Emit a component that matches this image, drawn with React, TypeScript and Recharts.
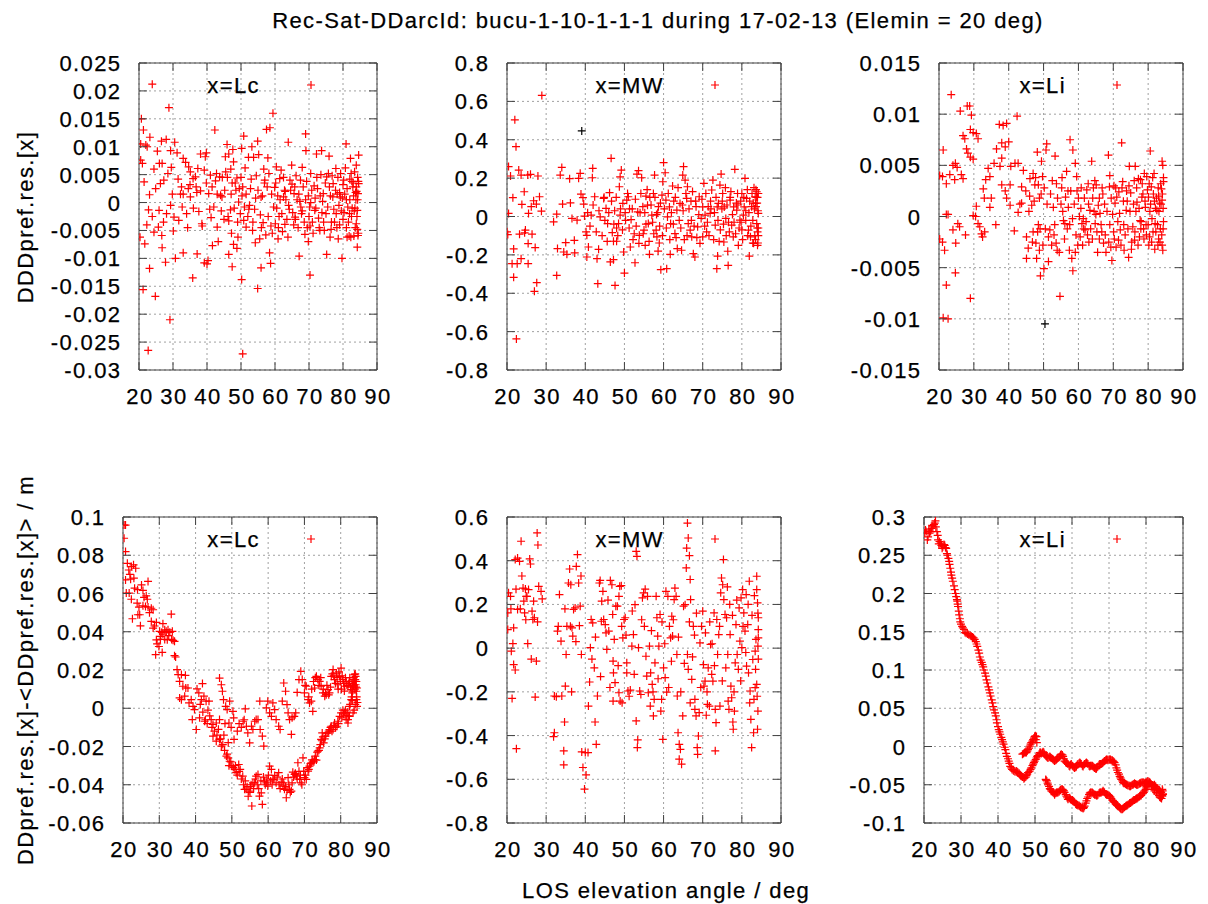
import React from 'react';
import { ScatterChart, Scatter, XAxis, YAxis, CartesianGrid, ReferenceArea } from 'recharts';

const FONT = '"Liberation Sans", Arial, Helvetica, sans-serif';
const AXIS = '#404040';
const GRID = '#a0a0a0';
const RED = '#ff0000';

// ---------- axes ----------
const xTicks = [20, 30, 40, 50, 60, 70, 80, 90];
const xTickLabels = ['20', '30', '40', '50', '60', '70', '80', '90'];

const topLcTicks = [-0.03, -0.025, -0.02, -0.015, -0.01, -0.005, 0, 0.005, 0.01, 0.015, 0.02, 0.025];
const topLcLabels = ['-0.03', '-0.025', '-0.02', '-0.015', '-0.01', '-0.005', '0', '0.005', '0.01', '0.015', '0.02', '0.025'];
const topMwTicks = [-0.8, -0.6, -0.4, -0.2, 0, 0.2, 0.4, 0.6, 0.8];
const topMwLabels = ['-0.8', '-0.6', '-0.4', '-0.2', '0', '0.2', '0.4', '0.6', '0.8'];
const topLiTicks = [-0.015, -0.01, -0.005, 0, 0.005, 0.01, 0.015];
const topLiLabels = ['-0.015', '-0.01', '-0.005', '0', '0.005', '0.01', '0.015'];
const botLcTicks = [-0.06, -0.04, -0.02, 0, 0.02, 0.04, 0.06, 0.08, 0.1];
const botLcLabels = ['-0.06', '-0.04', '-0.02', '0', '0.02', '0.04', '0.06', '0.08', '0.1'];
const botMwTicks = [-0.8, -0.6, -0.4, -0.2, 0, 0.2, 0.4, 0.6];
const botMwLabels = ['-0.8', '-0.6', '-0.4', '-0.2', '0', '0.2', '0.4', '0.6'];
const botLiTicks = [-0.1, -0.05, 0, 0.05, 0.1, 0.15, 0.2, 0.25, 0.3];
const botLiLabels = ['-0.1', '-0.05', '0', '0.05', '0.1', '0.15', '0.2', '0.25', '0.3'];

// ---------- data: [elevation, value] ----------
const topLcPoints: [number, number][] = [
  [20.7,0.015],[21.3,0.013],[22,0.0103],[22.4,0.010],[23.2,0.0117],[20.5,0.0076],[21,0.007],[21.5,0.0037],[20.3,-0.0062],[21.7,-0.0074],
  [21.2,-0.0156],[23.1,-0.0118],[22.7,-0.0265],[24.8,-0.0168],[23.9,0.0212],[28.8,0.017],[23.1,0.0014],[22.8,-0.0013],[23.9,-0.0025],[24.4,-0.0053],
  [24.4,0.006],[25.4,0.0092],[26,0.007],[26.8,0.007],[26.6,0.011],[28,0.0113],[27.3,0.004],[26.3,0.0034],[24.9,0.0025],[25.9,-0.0014],
  [25.7,-0.0044],[26.7,-0.0059],[26.8,-0.0081],[27.8,-0.0107],[29.1,-0.021],[28.1,-0.002],[29.3,-0.0005],[29.8,0.0015],[29.5,0.0063],[29.3,0.0093],
  [30.5,0.0108],[31.2,0.0089],[30.3,-0.0026],[30.1,-0.0051],[30.7,-0.01],[31.7,-0.0032],[32.7,-0.0008],[32.2,0.0015],[32.5,0.0028],[33,0.0079],
  [33.7,0.0072],[34.6,0.0064],[35.1,0.0055],[34.5,0.0025],[35.1,0.001],[33,-0.009],[35.9,0.0043],[36.6,0.0046],[37.3,0.0061],[38.1,0.0087],
  [39.5,0.0082],[39.8,0.0089],[39.2,0.0058],[38.1,0.0021],[37.6,-0.0016],[35.8,-0.0135],[37.1,-0.0092],[38.6,-0.0042],[39.2,-0.0108],[40,-0.011],
  [40.3,-0.0104],[40.5,0.0016],[41,0.0049],[41.2,-0.0027],[41.6,-0.0077],[42.3,0.013],[42.5,0.0039],[43,-0.0044],[43.3,-0.007],[43.7,0.0046],
  [44,0.0013],[44.4,0.001],[45.2,0.0022],[45.4,0.0082],[45.9,0.0104],[46.4,0.0087],[46.4,-0.0033],[46.4,-0.0093],[47.4,0.0035],[47.6,0.0095],
  [47.8,0.0073],[46.9,-0.0013],[47.4,-0.0115],[47.8,-0.0075],[48.8,-0.0082],[48.8,0.0044],[49.3,0.0001],[49.5,0.0025],[50.2,0.0097],[50.8,0.0119],
  [50.2,-0.0138],[50.5,-0.0271],[50.5,0.0028],[51,-0.0008],[51.5,-0.0044],[52.5,-0.0005],[52.2,0.0081],[53.2,0.01],[53.7,0.0081],[53.4,-0.005],
  [54.2,-0.0072],[54.9,0.011],[55.2,0.0086],[54.9,-0.0154],[55.9,-0.0117],[55.9,0.001],[56.5,-0.0036],[56.9,0.0035],[57.5,0.0131],[58.5,0.0134],
  [57.9,0.008],[58.4,-0.009],[58.7,-0.0109],[59.4,0.016],[59.9,0.0027],[60.4,0.0064],[60.1,-0.0038],[60.9,-0.0065],[61.4,0.0043],[62.5,0.001],
  [62.9,-0.0039],[63.9,0.0108],[64.4,0.004],[64.9,0.0067],[65.6,0.0016],[65.9,-0.0026],[67.1,-0.0096],[67.6,-0.0008],[68,0.0063],[69,0.0123],
  [69.1,0.0093],[68.8,-0.0057],[69.8,-0.007],[70.3,-0.013],[70.5,0.0052],[71.7,-0.0014],[72.2,0.0087],[73.2,-0.005],[73.7,0.0093],[74.2,0.0016],
  [75.2,-0.0093],[75.2,0.0046],[75.9,0.0083],[76.6,-0.0035],[77.1,0.0034],[77.9,0.0061],[78.6,-0.0065],[79.2,0.001],[79.7,-0.01],[80.9,0.0105],
  [81.4,-0.0008],[81.2,-0.0062],[82.2,0.0079],[82.4,0.0052],[82.9,0.0028],[83.9,0.0067],[84.6,0.0085],[84.2,-0.008],[84.4,-0.0059],[84.2,-0.0014],
  [84.4,0.0016],[84.6,0.0034],[83.9,-0.0038],
  [60.5,-0.001],[61.5,0.0005],[62,-0.002],[63,0.002],[64,-0.0005],[65,0.0033],[66,-0.003],[66.5,0.0005],[67,0.0015],[68,-0.0015],
  [69,0.0005],[70,-0.0025],[70.5,0],[71,-0.0035],[72,-0.001],[72.5,0.0025],[73,-0.0045],[74,0.0002],[75,-0.002],[76,0.0028],
  [76.5,-0.0048],[77,0.001],[78,-0.002],[78.5,0.0045],[79,0.0018],[80,-0.003],[80.5,0.0015],[81,-0.0045],[82,0.0005],[82.5,-0.0025],
  [83,0.0035],[83.5,-0.001],[84,0.002],[84.5,-0.0055],[83.8,0.0005],[84.3,0.0045],[83.2,-0.006],[81.8,-0.006],[80.2,0.004],[79.5,-0.0015],
  [77.5,-0.0035],[74.5,-0.005],[73.5,0.005],[71.5,0.003],[69.5,-0.0045],[67.5,0.004],[65.5,-0.004],[63.5,-0.003],[62.5,0.0045],[61,-0.0045],
  [59,0.0015],[58,-0.0025],[57,0.004],[56,-0.0045],[55,0.0022],[54,-0.0012],[53,0.0042],[52,-0.0025],[51.5,0.0015],[49,-0.0035],
  [48.5,0.0022],[48,-0.001],[46,0.0045],[45,-0.003],[44.5,0.0045],[43,0.0015],[42,-0.0008],[41.5,0.0028],[38.5,-0.0038],[37,0.0018],
  [36,-0.001],[35,0.0032],[34,-0.002],[33,0.0015],
  [45.5,0.0055],[46.2,-0.0025],[47,0.006],[47.2,-0.0055],[48.3,0.0035],[49.8,-0.002],[50,0.0045],[50.8,-0.0032],[51.2,0.0062],[52.8,0.0025],
  [53.5,-0.0035],[54.5,0.0048],[55.5,-0.0065],[56.3,0.0012],[57.3,-0.0058],[58.2,0.0052],[58.8,-0.0042],[59.6,-0.0008],[60.2,0.0035],[61.2,-0.0025],
  [61.8,0.0058],[62.2,-0.0052],[63.2,0.0005],[63.8,-0.0062],[64.6,0.0022],[65.2,-0.0018],[66.2,0.0048],[66.8,-0.0045],[67.3,0.0002],[68.3,0.0028],
  [68.6,-0.0035],[69.3,0.0038],[70.2,-0.0008],[70.8,0.0022],[71.2,-0.0055],[71.8,0.0008],[72.8,-0.0028],[73.3,0.0012],[73.8,-0.0018],[74.8,0.0035],
  [75.5,-0.0008],[76.2,-0.0062],[76.8,0.0048],[77.3,-0.0012],[77.8,0.0022],[78.2,-0.0045],[78.8,-0.0005],[79.3,0.0052],[79.8,0.0008],[80.3,-0.0018],
  [80.7,0.0062],[81.2,0.0025],[81.6,-0.0035],[82,0.0042],[82.3,-0.0062],[82.7,-0.001],[83.1,0.0012],[83.4,0.0055],[83.6,-0.0045],[83.9,0.0028],
  [84.1,-0.0025],[84.3,0.0005],[84.5,0.0038],[84.2,-0.0048],[83.7,0.0018],[83.3,-0.0015],[82.6,0.0038],[81.9,-0.002],[81,0.0005],[80,0.0032],
  [79,-0.004],[78.3,0.0015],[76.3,0.0012],[75.7,0.0052],[74.3,-0.0035],[72.3,0.0045],[70.3,-0.0042],[69.8,0.0012],[67.8,-0.002],[65.8,0.0028],
  [64.2,-0.0012],[62.8,0.0022],[60.8,0.0012],[59.2,-0.0055],[57.7,0.0028],[56.7,0.006],[55.7,-0.0022],[54.3,0.0008],[52.3,-0.0012],[50.3,0.0012],
  [49.1,-0.0062],[47.1,0.0015],[44.2,-0.0015],[42.8,0.0052],[40.8,-0.0012],[39.8,0.0035],[36.8,0.0028],[34.3,-0.0045],[31.5,0.0042],[28.5,0.0052],
  [27.2,-0.0035],[22.3,-0.004],[20.5,0.0105],
];

const topMwPoints: [number, number][] = [
  [22,0.504],[22.3,0.364],[28.9,0.631],[20.4,0.26],[20.9,0.211],[21.5,0.098],[20.4,0.016],[20,-0.08],[20.2,-0.094],[21.7,-0.169],
  [21.3,-0.246],[22.6,-0.246],[21.7,-0.317],[22.4,-0.638],[23,0.242],[23.6,0.216],[25.3,0.216],[26,0.22],[27.9,0.211],[24.4,0.129],
  [23.8,0.063],[24.7,-0.071],[23.2,-0.092],[24.5,-0.085],[25.5,0.016],[26.2,0.051],[26.8,0.082],[27.5,0.065],[28.3,0.103],[28.8,0.028],
  [26.4,-0.092],[25.4,-0.141],[27.2,-0.162],[25.4,-0.246],[27.6,-0.345],[27,-0.39],[23.6,-0.22],[31.9,-0.028],[32.7,0.012],[32.9,-0.167],
  [32.7,-0.307],[33.6,0.216],[34,0.256],[34.2,0.065],[34.5,-0.185],[35,-0.136],[35.3,-0.197],[36,0.197],[36.2,0.071],[36.6,-0.01],
  [37.2,-0.124],[37.3,-0.19],[37.9,-0.019],[38.3,0.199],[38.7,0.225],[38.9,0.117],[39.4,0.098],[39.6,0.065],[39.8,0.002],[40.2,-0.08],
  [40.4,-0.098],[40.8,-0.159],[40.4,-0.211],[41.5,0.007],[41.9,0.251],[41.8,0.202],[42.4,0.103],[43,-0.22],[43.2,-0.35],[43.4,-0.171],
  [43.8,-0.002],[44.7,0.094],[45.3,0.042],[45.7,-0.037],[46.2,0.124],[46.6,0.303],[46.9,-0.084],[47.2,-0.129],[46.4,-0.237],[47.2,-0.225],
  [47.6,-0.359],[48,-0.129],[48.5,-0.037],[48.9,0.007],[48.9,0.207],[48.7,0.155],[49.2,0.242],[49.6,0.068],[49.8,-0.185],[50,-0.295],
  [50.6,0.085],[51,0.103],[51.5,-0.159],[51.7,-0.016],[52.7,-0.241],[53.2,0.221],[53.6,0.239],[53.4,0.024],[53.8,-0.098],[54.4,0.202],
  [54.7,0.051],[55,-0.071],[55.3,-0.15],[55.5,0.106],[55.9,0.059],[56.1,-0.037],[56.4,-0.197],[57,0.007],[57.4,0.12],[57.7,0.216],
  [58.1,-0.071],[58.3,-0.106],[58.7,0.051],[58.9,-0.138],[59.3,-0.277],[59.6,0.111],[59.8,0.181],[60,0.281],[60.4,0.228],[60.6,0.085],
  [60.8,-0.272],[61,-0.002],[61.7,-0.197],[61.8,-0.037],[62.3,0.159],[62.9,-0.089],[63.4,0.033],[63.5,-0.167],[64.2,0.068],[64.6,-0.176],
  [64.9,0.216],[65.1,0.26],[65.5,0.19],[65.9,0.094],[66.1,0.155],[66.3,-0.037],[66.8,-0.071],[67.2,-0.106],[67.6,-0.194],[68,-0.211],
  [68.3,0.051],[68.7,-0.054],[69.1,0.103],[69.6,-0.01],[70,-0.106],[70.3,0.173],[70.6,0.007],[71,-0.08],[71.4,0.051],[71.9,0.016],
  [72.3,0.138],[72.6,0.19],[73.2,-0.045],[73.6,-0.272],[73.8,-0.206],[74,0.068],[74.4,0.164],[74.7,0.221],[75.1,0.12],[75.4,-0.133],
  [75.9,-0.01],[76.4,-0.181],[76.5,-0.255],[77,0.085],[77.4,-0.045],[77.8,-0.106],[78.2,0.246],[78.7,0.033],[79.1,-0.15],[79.5,-0.019],
  [80,0.12],[80.4,0.007],[80.8,0.199],[81.2,0.094],[81.7,-0.071],[81.9,-0.206],[82.2,-0.106],[82.5,0.051],[82.8,-0.138],[83.1,0.15],
  [83.4,0.103],[83.6,0.051],[83.8,-0.037],[84,-0.08],[84.1,-0.138],[84.2,0.016],[83.8,0.129],[83.5,0.068],
  [45,-0.02],[47.5,0.03],[48,-0.06],[50.2,0.02],[51.2,-0.06],[52,0.04],[52.5,-0.09],[54,0.02],[55.5,-0.04],[56.5,0.1],
  [57.5,-0.09],[58.5,0.02],[59,-0.05],[61.5,0.05],[62.5,-0.04],[63,0.1],[64,-0.02],[65,0.03],[66,-0.1],[67,0.08],
  [67.8,-0.05],[69,0.01],[70,0.05],[71.2,-0.03],[72,0.08],[73,0.02],[74.5,-0.07],[75.5,0.05],[76,-0.1],[77,0.1],
  [78,-0.03],[79,0.06],[80,-0.07],[81,0.03],[82,0.08],[82.8,-0.02],[83.3,-0.1],[84,0.1],[84.2,-0.06],[83.9,0.07],
  [40.6,0.02],[41.2,-0.05],[42,0.06],[42.8,-0.08],[43.5,0.03],[44.3,-0.1],[44.8,0.1],[45.6,-0.13],[46,0.02],[46.7,0.08],
  [47.3,-0.04],[47.9,0.1],[48.3,-0.1],[49,0.04],[49.5,-0.07],[50.3,-0.02],[50.8,0.12],[51.3,0.04],[52.2,-0.12],[52.8,0.09],
  [53,-0.05],[53.7,-0.14],[54.2,0.12],[54.8,-0.09],[55.2,0.02],[55.8,0.14],[56.3,-0.13],[56.8,0.06],[57.2,-0.03],[57.8,0.1],
  [58.2,0.01],[58.6,-0.18],[59.2,0.07],[59.7,-0.1],[60.2,0.04],[60.7,-0.06],[61.2,0.12],[61.6,-0.12],[62,0.02],[62.6,0.08],
  [63.2,-0.11],[63.7,0.15],[64.4,-0.06],[64.8,0.06],[65.3,-0.12],[65.7,0.12],[66.5,0.04],[67.1,-0.02],[67.4,0.13],[68.2,0.08],
  [68.5,-0.11],[69.3,-0.14],[69.8,0.09],[70.5,-0.05],[70.8,0.12],[71.6,-0.1],[72.1,0.04],[72.8,-0.12],[73.4,0.1],[73.9,-0.02],
  [74.2,-0.13],[74.9,0.04],[75.3,-0.04],[75.8,0.15],[76.2,0.06],[76.8,-0.08],[77.2,0.13],[77.6,0.01],[78.4,-0.09],[78.9,0.12],
  [79.3,-0.06],[79.7,0.08],[80.2,-0.12],[80.6,0.05],[81,-0.02],[81.4,0.14],[81.8,0.02],[82.3,-0.05],[82.6,0.12],[83,-0.14],
  [83.2,0.04],[83.5,-0.12],[83.7,0.1],[83.9,-0.06],[84.1,0.03],[84.2,0.12],[84,-0.15],[84.2,-0.1],[83.6,0.14],[82.9,0.07],
  [81.5,-0.1],[80.5,0.1],[79.8,-0.03],[78.6,0.07],[77.9,0.05],[76.6,-0.03],[75,0.08],[73.7,0.05],
];
const topMwBlack: [number, number][] = [[39.1, 0.446]];

const topLiPoints: [number, number][] = [
  [23.5,0.0119],[21.2,0.0065],[20.2,0.004],[21,0.0039],[22.1,0.0032],[23.1,0.0041],[24,0.005],[24.7,0.0052],[25.2,0.0048],[24.5,0.0036],
  [26.4,0.0041],[26.9,0.0037],[26.1,0.0103],[28.1,0.0108],[28.8,0.0108],[29.3,0.0099],[26.9,0.0079],[27.4,0.0076],[29,0.0085],[29.8,0.0082],
  [30.7,0.0081],[31.2,0.0076],[27.9,0.0066],[28.3,0.0062],[29,0.0058],[29.8,0.0056],[22.6,0.0002],[22.1,0.0002],[20.2,-0.0022],[21,-0.0025],
  [21.6,-0.0033],[24,-0.0013],[24.8,-0.0026],[25.4,-0.0007],[25.9,-0.001],[27.6,-0.0018],[24.7,-0.0055],[22.1,-0.0067],[21.2,-0.0099],[22.6,-0.01],
  [29,-0.008],[29.8,0.0001],[30.5,0],[30.7,0.001],[31.2,-0.0007],[31.7,-0.001],[32.2,-0.0017],[32.5,-0.002],[33.1,-0.0015],[32.7,0.0027],
  [33,0.0018],[33.4,0.0036],[34.1,0.0047],[34.6,0.0039],[35,0.0018],[34.6,0.0009],[36.3,-0.0008],[35.8,0.0052],[36.5,0.0066],[37.5,0.0049],
  [38,0.0057],[37.3,0.009],[38.4,0.0089],[39.4,0.0091],[38,0.0072],[39,0.0068],[40,0.0073],[38,0.0031],[39,0.0025],[39.4,0.0018],
  [40.4,0.0031],[40.4,0.0011],[40.6,0.0049],[41.8,0.0052],[42.4,0.0098],[42.7,0.0052],[42.7,0.0004],[41.6,-0.0014],[43.7,0.0029],[44.2,0.0045],
  [43.7,0.0013],[45.1,-0.002],[45.6,-0.0031],[45.1,-0.0041],[46.1,0.0037],[46.6,0.0011],[47,0.0042],[47.5,0.0031],[48.2,0.0063],[48.5,0.0031],
  [48.8,0.0018],[48.5,-0.0008],[49,-0.0012],[47.8,-0.0026],[48,-0.0041],[48.8,-0.0033],[49.1,-0.0058],[50.1,-0.0051],[50.7,0.0065],[50.9,0.0071],
  [49.4,0.0054],[49.7,0.0039],[51.4,-0.0044],[51.4,-0.002],[51.8,-0.0013],[52.8,0.0009],[53.3,0.0059],[53.7,0.0032],[53.6,-0.0026],[53.9,-0.0033],
  [54.7,-0.0078],[55.2,0.0028],[55.7,-0.0004],[56.1,-0.0007],[56.3,0.0019],[56.6,0.0044],[57.1,0.0009],[57.4,-0.0033],[57.6,0.0075],[58.4,0.0065],
  [58.1,-0.0041],[58.4,-0.0053],[59.1,-0.0035],[59.1,0.0052],[59.5,0.0039],[60,0.0018],[60.3,0],[60.5,-0.002],[61,-0.0007],[61.4,-0.0002],
  [61.9,-0.0013],[62.4,0.0026],[62.6,-0.0018],[63.3,0.0006],[63.8,0.0054],[64.1,0.0018],[64.8,-0.0007],[65.1,0.0031],[65.5,-0.0035],[65.7,0.0011],
  [66.2,0.0003],[66.7,-0.0015],[67.2,-0.0026],[67.9,-0.0035],[68.6,0.006],[68.9,0.0029],[69.3,-0.003],[69.6,-0.0043],[70.1,-0.0015],[70.5,0.0013],
  [71,0.0019],[71.5,-0.0023],[72,-0.0013],[72.4,0.0072],[72.7,0.0034],[73.1,-0.0033],[73.7,0.0006],[74.4,-0.004],[74.6,0.0049],[75,0.0023],
  [75.6,-0.001],[76.3,0.0049],[76.1,-0.0023],[76.8,0.0014],[77.2,0.0037],[77.7,-0.0004],[78.2,0.0019],[78.7,-0.0012],[79.2,0.0009],[79.6,0.0039],
  [80.1,0.0019],[80.6,0.0064],[80.4,-0.002],[80.9,0.0029],[81.4,-0.0015],[81.7,0.0042],[82,-0.0007],[82.5,0.0006],[83,-0.0022],[83.3,0.0013],
  [83.8,0.0027],[84,0.0054],[84.2,0.005],[84.2,-0.0033],[84.4,-0.0005],[84,0.0016],[84.4,0.0034],
  [61.5,-0.0012],[63,-0.0025],[64.5,0.0005],[66,-0.0022],[67.5,0.0012],[69,-0.0008],[70.8,-0.003],[71.8,0.0003],[73,-0.0008],[74,0.0015],
  [75.3,-0.0025],[76.5,0.0005],[77.5,-0.002],[78.5,0.0022],[79.5,-0.0018],[80.5,0.0005],[81,-0.0025],[81.8,0.0015],[82.2,-0.0015],[83,0.002],
  [83.5,-0.0012],[84.3,0.0008],[82.8,-0.0028],[80,-0.0008],[78,-0.0005],[57.5,-0.0008],[55,0.0012],[53,-0.0018],[52,0.0022],[47,-0.0015],
  [46,0.002],
  [45.8,0.0005],[46.8,-0.0025],[47.3,0.0015],[48.3,-0.0015],[49.3,0.0022],[49.8,-0.0028],[50.5,-0.0012],[51,0.0012],[52.3,-0.0028],[53.2,-0.0008],
  [54,0.0018],[54.5,-0.0035],[55.5,0.0005],[56,-0.0022],[56.8,-0.0012],[57.8,0.0025],[58.3,-0.0002],[58.8,0.0012],[59.3,-0.0018],[59.8,-0.0028],
  [60.7,0.0008],[61.2,-0.0028],[61.7,0.0018],[62.2,-0.0005],[62.9,0.0012],[63.5,-0.0012],[64,-0.0022],[64.3,0.0028],[65,0.0002],[65.3,-0.0015],
  [66,0.0018],[66.5,-0.0008],[67,0.0022],[67.7,-0.0018],[68.2,0.0005],[68.7,-0.0025],[69.4,0.0018],[69.8,0.0002],[70.3,-0.0022],[70.7,0.0028],
  [71.3,-0.0005],[71.6,0.0024],[72.2,-0.0028],[72.9,0.0015],[73.4,-0.0018],[73.8,0.0025],[74.2,-0.0012],[74.8,0.0005],[75.2,-0.0032],[75.8,0.0012],
  [76.2,-0.0015],[76.7,0.0028],[77.1,-0.0028],[77.4,0.0008],[77.9,-0.0012],[78.3,0.0032],[78.8,-0.0022],[79.1,0.0015],[79.4,-0.0008],[79.8,0.0026],
  [80.2,-0.0028],[80.7,0.0012],[81.1,-0.0002],[81.5,0.0022],[81.9,-0.0032],[82.4,0.0018],[82.7,-0.0008],[83.1,0.0005],[83.4,-0.0025],[83.7,0.0012],
  [83.9,-0.0018],[84.1,0.0022],[84.3,-0.0012],[84.4,0.0038],[84,-0.0028],[83.6,0.0032],[82.9,0.0028],[82.1,0.0008],[81.3,0.0038],[80.3,0.0032],
  [78.9,0.0042],[77.8,0.0036],[76,0.0035],[74.5,0.003],[72.5,0.0028],[70.2,0.003],[69,0.004],[66.8,0.0028],[64.7,0.0035],[62.8,0.0032],
  [60.8,0.0028],[59.6,0.0025],[57,0.0025],[55.3,0.0038],[52.5,0.0035],[50.2,0.0028],[47.7,0.0038],[44.9,0.0025],[43.2,0.0012],
];
const topLiBlack: [number, number][] = [[50.4, -0.0105]];

const botLcPoints: [number, number][] = [
  [20.3,0.0958],[20.7,0.0958],[20.3,0.0889],[20.7,0.0819],[21.2,0.0758],[21.6,0.0723],[22.3,0.0741],[22.9,0.075],[23.5,0.0732],[20.7,0.0671],
  [22.1,0.0675],[20.9,0.0602],[21.7,0.0602],[22.3,0.057],[23.2,0.0628],[25.1,0.0645],[26.9,0.0663],[25.5,0.0616],[26.4,0.0588],[26.7,0.057],
  [23.9,0.055],[24.4,0.0529],[25.5,0.0536],[26.2,0.0532],[26.9,0.0529],[27.8,0.0523],[28.3,0.0515],[24.1,0.0489],[24.6,0.0489],[22.6,0.0468],
  [24.8,0.0431],[27.8,0.0454],[28.3,0.0419],[29.2,0.0449],[31,0.0442],[33.3,0.0492],[30.1,0.0402],[30.7,0.0397],[31.5,0.041],[31.9,0.0402],
  [32.4,0.041],[32.9,0.0397],[33.6,0.0402],[30.4,0.0376],[31,0.0388],[29.2,0.0358],[29.4,0.0337],[29.9,0.0323],[32.2,0.0358],[33.8,0.0355],
  [34.2,0.035],[29,0.028],[30.8,0.0292],[34.2,0.0275],[34.5,0.0268],[34.9,0.0202],[35.2,0.0176],[36.1,0.0176],[37.2,0.0172],[35.6,0.0141],
  [36.5,0.0115],[37.3,0.0106],[37.9,0.0106],[35.6,0.0054],[36.1,0.0045],[37,0.0063],[38.2,0.0028],[38.8,0.0045],[39.3,0.001],[39.7,-0.0007],
  [40.4,0.0101],[40.9,0.008],[41.9,0.0129],[41.6,0.0045],[42.3,0.0063],[42.9,0.0037],[43.7,0.0037],[39.1,-0.0059],[40.2,-0.0111],[41.1,-0.005],
  [42.5,-0.0068],[43.4,-0.001],[44.3,-0.0059],[44.8,-0.0085],[45.7,-0.0077],[46.6,-0.0059],[46.6,0.0158],[47.1,0.0123],[47.4,0.0089],[47.7,0.0045],
  [48.3,0.001],[48.7,-0.0007],[49.2,-0.0077],[49.4,0.0037],[50.3,-0.0016],[44.8,-0.0146],[45.7,-0.0172],[46.6,-0.0163],[47.1,-0.0198],[47.5,-0.019],
  [48.5,-0.025],[48.9,-0.0259],[49.4,-0.0277],[50,-0.0303],[50.6,-0.0163],[50.8,-0.032],[51.2,-0.0337],[51.9,-0.0294],[52.3,-0.032],[53,-0.0355],
  [53.5,-0.0424],[53.9,-0.0424],[54.7,-0.0433],[55.1,-0.041],[55.5,-0.0511],[55.8,-0.039],[56.3,-0.039],[56.7,-0.0355],[57.2,-0.0346],[57.6,-0.0459],
  [58.4,-0.0503],[58.1,-0.0442],[59,-0.0381],[59.5,-0.039],[59.9,-0.0407],[60.4,-0.0303],[60.9,-0.032],[61.3,-0.0372],[61.8,-0.0351],[62.2,-0.039],
  [62.9,-0.0337],[63.6,-0.0386],[64.1,-0.0407],[64.5,-0.0424],[65,-0.0468],[65.5,-0.0363],[65.9,-0.0424],[66.4,-0.0433],[66.8,-0.0334],[67.3,-0.0346],
  [67.8,-0.0355],[68.2,-0.0285],[68.7,-0.0372],[69.1,-0.039],[69.6,-0.0259],[70,-0.0363],[70.5,-0.0372],[71,-0.0329],[71.4,-0.0303],[71.9,-0.0285],
  [72.3,-0.0277],[72.8,-0.0268],[73.3,-0.0271],[73.7,-0.0224],[74.2,-0.0207],[74.6,-0.0163],[74.9,-0.0129],[75.3,-0.0181],[75.8,-0.0146],[76.5,-0.0129],
  [76.9,-0.0111],[77.4,-0.0094],[77.9,-0.0111],[78.3,-0.0077],[79,-0.0094],[79.2,-0.0068],[79.7,-0.0042],[80.1,-0.0024],[80.6,-0.001],[81.1,-0.0024],
  [81.5,-0.0038],[82,-0.0059],[82.4,0.001],[82.9,0.0045],[83.2,0.008],[83.6,0.0115],[83.8,0.0141],[84.1,0.0167],[84.3,0.0089],[84.5,0.001],
  [84.3,0.0045],
  [53.7,-0.0003],[53.1,-0.0068],[54,-0.0094],[54.4,-0.0129],[54.9,-0.0181],[55.4,-0.0094],[55.8,-0.0111],[56.3,-0.0068],[56.7,-0.0059],[57.2,-0.0059],
  [57.8,-0.0111],[58.4,-0.0146],[58.8,-0.0198],[57.7,0.0037],[59.5,0.0002],[59.9,0.0037],[60.4,-0.0024],[60.9,-0.0042],[61.3,0.0028],[61.8,-0.0007],
  [62.2,-0.0059],[62.9,-0.0094],[63.3,-0.0111],[63.9,0.0037],[64.3,0.0132],[64.8,0.0089],[65.2,0.0019],[65.5,-0.0024],[65.9,-0.0059],[66.4,-0.0137],
  [66.6,-0.005],[67.2,-0.0042],[67.6,-0.0024],[68,0.0083],[68.5,0.015],[69,0.0193],[69.4,0.015],[70,0.008],[70.5,0.0115],[71,0.0045],
  [71.4,0.0028],[71.9,0.0037],[72.3,-0.0016],[72.8,0.0106],[73.3,0.0167],[73.7,0.015],[74.2,0.0141],[74.6,0.0115],[75.1,0.008],[75.6,0.0063],
  [76,0.0071],[76.5,0.0097],[76.9,0.008],[77.4,0.0167],[77.9,0.0202],[78.3,0.015],[78.8,0.0184],[79.2,0.0123],[79.7,0.0167],[80.1,0.021],
  [80.6,0.015],[81.1,0.0115],[81.5,0.0141],[82,0.0115],[82.4,0.0141],[82.9,0.0097],[83.4,0.015],[83.8,0.0176],[84.1,0.0123],[84.5,0.0106],
  [83.4,-0.0024],[82.4,-0.0042],[82,-0.0077],[81.5,-0.0059],
  [48,-0.022],[48.7,-0.024],[49.2,-0.03],[49.7,-0.028],[50.4,-0.031],[51,-0.03],[51.5,-0.035],[52,-0.033],[52.6,-0.037],[53.2,-0.04],
  [53.7,-0.038],[54.2,-0.041],[54.5,-0.046],[55,-0.044],[55.3,-0.04],[56,-0.042],[56.5,-0.037],[57,-0.04],[57.4,-0.042],[58,-0.038],
  [58.7,-0.036],[59.2,-0.04],[59.7,-0.037],[60.1,-0.035],[60.7,-0.038],[61.1,-0.04],[61.6,-0.037],[62.5,-0.036],[63,-0.04],[63.3,-0.042],
  [63.9,-0.037],[64.3,-0.039],[64.8,-0.041],[65.2,-0.043],[65.7,-0.04],[66.1,-0.044],[66.6,-0.039],[67,-0.036],[67.5,-0.034],[68,-0.037],
  [68.5,-0.033],[68.9,-0.035],[69.3,-0.04],[69.8,-0.033],[70.3,-0.035],[70.8,-0.031],[71.2,-0.032],[71.7,-0.029],[72.1,-0.027],[72.6,-0.028],
  [73,-0.025],[73.5,-0.023],[74,-0.022],[74.4,-0.019],[74.8,-0.017],[75.1,-0.015],[75.6,-0.016],[76.2,-0.013],[76.7,-0.012],[77.2,-0.01],
  [77.6,-0.012],[78.1,-0.009],[78.6,-0.01],[79.4,-0.008],[80.3,-0.005],[80.8,-0.003],[81.3,-0.001],[81.8,-0.002],[82.2,-0.004],[82.6,0.002],
  [83,0.006],[83.3,0.009],[83.5,0.012],[84,0.015],[84.2,0.011],[84.4,0.006],[84.6,0.003],[84,0.002],[83.7,-0.001],[83.2,0.004],
  [70.2,0.012],[71.2,0.006],[72,0.01],[72.5,0.014],[73,0.016],[74,0.012],[74.5,0.016],[75.2,0.01],[75.8,0.008],[76.2,0.012],
  [76.7,0.007],[77.2,0.011],[77.7,0.018],[78.1,0.017],[78.6,0.013],[79,0.016],[79.5,0.019],[79.9,0.014],[80.4,0.017],[80.8,0.013],
  [81.3,0.016],[81.7,0.012],[82.2,0.013],[82.7,0.011],[83.1,0.013],[83.6,0.016],[84,0.018],[84.3,0.014],[83.9,0.01],[83.3,0.012],
  [82.5,0.016],[81,0.009],[80.2,0.01],[79.3,0.01],
  [41.3,0.002],[42,-0.002],[42.7,-0.006],[43.2,-0.008],[43.9,-0.004],[44.5,-0.01],[45.2,-0.012],[45.9,-0.014],[46.3,-0.011],[46.9,-0.016],
  [47.8,-0.014],[48.1,-0.008],[49,-0.018],[49.8,-0.01],[50.5,-0.005],[51.5,-0.012],[52,-0.008],[52.6,-0.01],[53.4,-0.006],
  [21.9,0.07],[23,0.068],[24,0.062],[25.8,0.058],[27.3,0.05],[28.7,0.043],[30.3,0.036],[31.5,0.036],[32.6,0.038],[33.4,0.036],
];

const botMwPoints: [number, number][] = [
  [20.2,0.085],[20.2,0.161],[20.4,0.253],[20.9,0.237],[21.1,-0.014],[21.5,0.021],[21.7,0.093],[21.7,-0.075],[22.1,-0.1],[21.3,-0.23],
  [22.4,-0.46],[22.1,0.405],[22.7,0.412],[23.2,0.397],[23.6,0.489],[22.7,0.177],[23.4,0.18],[24.1,0.275],[24.7,0.271],[24.9,0.237],
  [24.3,0.215],[24.5,0.161],[25.1,0.237],[25.3,0.021],[25.8,0.408],[26,0.385],[25.5,0.268],[26.4,0.169],[26.8,0.215],[26.6,0.131],
  [27,0.139],[27.5,-0.059],[27.2,-0.224],[27.7,0.527],[27.9,0.472],[28.1,0.283],[28.7,0.26],[29,0.225],[32.1,-0.219],[32.6,-0.222],
  [32.1,-0.387],[31.9,-0.405],[32.9,0.078],[33.4,0.245],[33.8,0.032],[34,-0.219],[34.5,-0.47],[34.5,-0.534],[34.7,-0.338],[34.9,-0.174],
  [35.1,-0.029],[35.3,0.1],[35.7,0.298],[36,0.362],[36.3,0.29],[36.2,0.1],[36.6,0.093],[36.8,0.055],[37,0.177],[37.4,0.184],
  [37.7,0.374],[38,0.428],[38.3,0.298],[38.5,0.103],[38.7,0.192],[39,-0.029],[39.1,-0.475],[39.4,-0.546],[40,-0.478],[40.2,-0.58],
  [39.8,-0.645],[40.7,-0.478],[40.8,-0.265],[41.1,-0.155],[41.3,0.002],[41.5,0.131],[41.9,0.116],[42.3,-0.09],[42.5,-0.338],[42.8,-0.44],
  [43.1,-0.219],[43.6,0.298],[43.8,0.31],[44.2,0.215],[44.1,0.123],[44.7,0.131],[45.1,0.108],[45.3,0.07],[45.5,-0.006],[46,0.078],
  [46.4,0.31],[46.8,0.29],[47,0.154],[47.1,-0.059],[47.2,-0.113],[47.1,-0.242],[47.6,-0.158],[47.8,0.192],[48.2,0.192],[48.6,0.237],
  [48.8,0.283],[49.2,0.286],[48.6,-0.204],[48.9,-0.242],[49.3,0.1],[49.6,0.047],[49.9,0.131],[50.2,0.139],[50.6,-0.067],[50.6,-0.113],
  [50.9,-0.196],[51.5,-0.192],[51.9,0.009],[52.3,0.062],[52.7,0.199],[53,0.443],[53.2,0.42],[53,-0.333],[53.4,-0.42],[53.3,-0.455],
  [53.6,0.002],[53.9,-0.196],[54.2,-0.212],[54.6,0.23],[54.9,0.253],[55.1,0.1],[55.5,-0.037],[55.7,-0.128],[55.9,0.237],[56.1,-0.204],
  [56.4,0.009],[56.6,-0.265],[56.7,-0.113],[57.1,-0.166],[57.4,-0.31],[57.6,-0.234],[57.8,-0.067],[58.1,0.237],[58.3,0.139],[58.5,0.055],
  [58.8,0.009],[59.1,0.154],[59.3,-0.288],[59.5,-0.234],[59.8,-0.417],[60,-0.09],[60.4,-0.135],[60.6,0.26],[60.8,-0.201],[61.1,0.237],
  [61.5,0.1],[61.8,0.047],[62.1,0.146],[62.3,0.055],[62.7,0.222],[62.9,0.275],[63.2,0.237],[63.4,-0.029],[63.5,-0.219],[63.7,-0.387],
  [64,-0.44],[64.3,-0.463],[64,-0.508],[64.6,-0.531],[64.9,-0.31],[65.1,0.192],[65.5,0.199],[65.8,0.367],[65.9,0.458],[66.1,0.572],
  [66.3,0.504],[66.6,0.423],[66.8,0.314],[66.9,0.222],[66.1,-0.029],[66.3,-0.097],[66.8,-0.25],[67.2,-0.143],[67.6,0.1],[68,-0.234],
  [68,-0.28],[68.3,-0.31],[68.6,-0.455],[68.7,-0.486],[68.9,-0.402],[69.1,-0.295],[69.3,0.024],[69.7,0.1],[70,0.169],[70.2,-0.075],
  [70.3,-0.174],[70.6,-0.151],[70.9,-0.307],[71.2,-0.257],[71.4,-0.09],[71.7,-0.265],[72,0.017],[72.3,-0.12],[72.6,-0.151],[72.9,0.161],
  [73.2,-0.28],[73.4,-0.341],[73.2,-0.47],[73.6,0.131],[73.8,-0.029],[74.1,0.062],[74.4,-0.265],[74.6,0.253],[74.8,0.321],[75.1,0.29],
  [75.3,0.405],[75.4,0.222],[75.7,0.154],[76.1,0.139],[76.4,-0.029],[76.5,-0.242],[76.7,-0.28],[77,0.062],[77.2,-0.174],[77.4,-0.227],
  [77.7,-0.338],[77.8,-0.371],[78.1,-0.288],[78.3,-0.067],[78.5,0.108],[78.8,-0.029],[79.1,-0.097],[79.3,0.184],[79.5,0.032],[79.8,0.23],
  [80,0.002],[80.2,0.268],[80.5,0.161],[80.8,0.078],[81.1,0.245],[81.2,-0.082],[81.5,0.108],[81.7,-0.113],[81.9,0.306],[82.1,-0.196],
  [82.3,-0.326],[82.5,-0.455],[82.8,-0.052],[83,-0.387],[83.1,-0.234],[83.4,-0.181],[83.5,-0.097],[83.8,0.329],[83.8,0.268],[84,0.207],
  [84,-0.371],[84.1,-0.288],[84.2,0.085],[84.2,0.047],[84.1,0.009],[84.2,0.139],[83.8,-0.166],[83.4,-0.014],
  [21,0.18],[22.3,0.27],[23.8,0.33],[24.8,0.13],[26.2,-0.05],[27.8,0.12],[33.1,0.1],[34.8,0.18],[36.5,-0.2],[37.6,0.03],
  [38.9,0.33],[41.7,-0.05],[42.6,0.05],[43.9,-0.13],[44.5,0.26],[45.8,0.22],[46.3,-0.18],[47.4,0.04],[48.4,-0.08],[49.4,-0.25],
  [50.4,0.06],[51.2,-0.22],[52,0.17],[52.5,-0.12],[54.4,0.13],[55.3,0.27],[56.9,0.08],[57.3,-0.2],[58.6,-0.14],[59.6,0.12],
  [60.3,0.02],[61.3,-0.18],[62,-0.06],[62.5,0.13],[63.8,0.05],[64.4,-0.2],[65.3,-0.07],[66.6,0.12],[67.4,-0.04],[67.9,0.06],
  [68.4,0.16],[69.5,-0.18],[70.7,0.07],[71.1,-0.2],[71.8,0.12],[72.4,0.02],[73,-0.08],[74.3,0.1],[75,-0.15],[75.9,-0.09],
  [76.3,0.28],[76.9,0.2],[77.6,0.15],[78,-0.2],[78.7,0.22],[79.7,-0.15],[80.3,0.1],[81,-0.02],[81.6,0.2],[82,-0.25],
  [82.6,0.15],[83.2,0.24],[83.6,0.04],[83.9,-0.22],[84.1,0.16],[84.2,-0.05],
];

const botLiPoints: [number, number][] = [
  [20.2,0.279],[20.6,0.281],[21.1,0.274],[21.5,0.279],[22,0.285],[22.4,0.287],[22.9,0.292],[23.2,0.287],[23.5,0.281],[23.8,0.27],
  [24.2,0.268],[24.7,0.263],[25.1,0.261],[25.6,0.263],[26,0.259],[26.3,0.25],[26.8,0.242],[27.1,0.233],[27.4,0.224],[27.8,0.216],
  [28.3,0.205],[28.7,0.196],[29,0.19],[29.2,0.183],[29.5,0.172],[29.8,0.163],[30.3,0.157],[30.8,0.153],[31.4,0.148],[32.1,0.146],
  [32.8,0.144],[33.4,0.142],[34,0.137],[34.4,0.131],[34.9,0.122],[35.3,0.113],[35.8,0.107],[36.2,0.1],[36.7,0.092],[37.1,0.083],
  [37.6,0.074],[38,0.066],[38.5,0.057],[38.9,0.048],[39.4,0.04],[39.7,0.031],[40.2,0.022],[40.6,0.016],[41.1,0.009],[41.5,0.003],
  [42,-0.004],[42.4,-0.013],[42.9,-0.019],[43.3,-0.026],[43.8,-0.03],[44.3,-0.032],[44.95,-0.032],[45.4,-0.034],[45.9,-0.037],[46.3,-0.039],
  [46.8,-0.04],[47.2,-0.041],[47.7,-0.038],[48.1,-0.034],[48.6,-0.032],[49,-0.028],[49.5,-0.023],[49.9,-0.019],[50.4,-0.015],[50.8,-0.012],
  [51.3,-0.008],[51.7,-0.009],[52.2,-0.007],[52.6,-0.01],[53.1,-0.013],[53.5,-0.015],[54,-0.013],[54.4,-0.015],[54.9,-0.017],[55.3,-0.019],
  [55.8,-0.017],[56.2,-0.015],[56.7,-0.013],[57.1,-0.01],[57.6,-0.013],[58,-0.019],[58.5,-0.021],[58.9,-0.023],[59.4,-0.026],[59.8,-0.023],
  [60.3,-0.026],[60.7,-0.028],[61.2,-0.026],[61.6,-0.023],[62.1,-0.021],[62.5,-0.023],[63,-0.026],[63.4,-0.023],[63.9,-0.021],[64.3,-0.023],
  [64.8,-0.026],[65.2,-0.025],[65.7,-0.026],[66.1,-0.028],[66.6,-0.029],[67,-0.026],[67.5,-0.023],[67.9,-0.023],[68.4,-0.021],[68.8,-0.019],
  [69.3,-0.017],[69.7,-0.018],[70.2,-0.017],[70.6,-0.018],[71.1,-0.019],[71.5,-0.021],[72,-0.028],[72.4,-0.034],[72.9,-0.039],[73.3,-0.043],
  [73.8,-0.047],[74.2,-0.048],[74.7,-0.05],[75.1,-0.051],[75.6,-0.052],[76,-0.051],[76.5,-0.05],[76.9,-0.048],[77.4,-0.05],[77.8,-0.05],
  [78.3,-0.048],[78.7,-0.047],[79.2,-0.047],[79.6,-0.048],[80.1,-0.047],[80.5,-0.045],[81,-0.047],[81.4,-0.05],[81.9,-0.052],[82.3,-0.05],
  [82.8,-0.054],[83.2,-0.056],[83.7,-0.058],[84.1,-0.06],[84.4,-0.056],[84.6,-0.062],
  [52.9,-0.043],[53.2,-0.045],[53.5,-0.05],[54,-0.055],[54.4,-0.058],[54.9,-0.06],[55.3,-0.063],[55.8,-0.06],[56.2,-0.06],[56.7,-0.058],
  [57.1,-0.056],[57.6,-0.057],[58,-0.06],[58.5,-0.065],[58.9,-0.069],[59.4,-0.067],[59.8,-0.07],[60.3,-0.071],[60.7,-0.073],[61.2,-0.076],
  [61.6,-0.077],[62.1,-0.078],[62.5,-0.08],[63,-0.081],[63.4,-0.078],[63.9,-0.071],[64.3,-0.066],[64.8,-0.061],[65.2,-0.06],[65.7,-0.061],
  [66.1,-0.063],[66.6,-0.064],[67,-0.063],[67.5,-0.06],[67.9,-0.06],[68.4,-0.058],[68.8,-0.06],[69.3,-0.063],[69.7,-0.063],[70.2,-0.065],
  [70.6,-0.068],[71.1,-0.071],[71.5,-0.073],[72,-0.076],[72.4,-0.078],[72.9,-0.08],[73.3,-0.082],[73.8,-0.081],[74.2,-0.079],[74.7,-0.077],
  [75.1,-0.076],[75.6,-0.074],[76,-0.073],[76.5,-0.071],[76.9,-0.07],[77.4,-0.068],[77.8,-0.067],[78.3,-0.065],[78.7,-0.064],[79.2,-0.061],
  [79.6,-0.058],[80.1,-0.054],[80.5,-0.05],[81,-0.047],[81.9,-0.056],[82.8,-0.06],[83.5,-0.064],[83.9,-0.067],[84.4,-0.065],
  [46.6,-0.01],[47.2,-0.008],[47.7,-0.008],[48.1,-0.004],[48.6,0.0004],[49,0.005],[49.5,0.009],[49.9,0.013],[50.4,0.013],[50.5,0.005],
  [20.4,0.283],[20.9,0.27],[21.3,0.283],[21.8,0.281],[22.2,0.289],[22.7,0.29],[23.1,0.295],[23.7,0.276],[24,0.265],[24.5,0.266],
  [24.9,0.259],[25.4,0.264],[25.8,0.26],[26.2,0.252],[26.6,0.246],[26.9,0.238],[27.3,0.228],[27.6,0.22],[28.1,0.21],[28.5,0.2],
  [28.9,0.192],[29.1,0.186],[29.4,0.177],[29.7,0.167],[30,0.16],[30.5,0.155],[31.1,0.149],[31.8,0.147],[32.5,0.145],[33.1,0.143],
  [33.7,0.14],[34.2,0.134],[34.7,0.126],[35.1,0.117],[35.6,0.11],[36,0.104],[36.5,0.096],[36.9,0.087],[37.4,0.078],[37.8,0.07],
  [38.3,0.061],[38.7,0.052],[39.2,0.044],[39.6,0.035],[40,0.026],[40.4,0.019],[40.9,0.012],[41.3,0.006],[41.8,-0.001],[42.2,-0.009],
  [42.7,-0.016],[43.1,-0.022],[43.6,-0.028],[44.1,-0.031],[44.6,-0.033],[45.2,-0.033],[45.7,-0.035],[46.1,-0.038],[46.6,-0.04],[47,-0.042],
  [47.5,-0.04],[47.9,-0.036],[48.4,-0.033],[48.8,-0.03],[49.3,-0.025],[49.7,-0.021],[50.2,-0.017],[50.6,-0.013],[51.1,-0.01],[51.5,-0.008],
  [52,-0.008],[52.4,-0.008],[52.9,-0.012],[53.3,-0.014],[53.8,-0.014],[54.2,-0.014],[54.7,-0.016],[55.1,-0.018],[55.6,-0.018],[56,-0.016],
  [56.5,-0.014],[56.9,-0.011],[57.4,-0.011],[57.8,-0.016],[58.3,-0.02],[58.7,-0.022],[59.2,-0.025],[59.6,-0.024],[60.1,-0.025],[60.5,-0.027],
  [61,-0.027],[61.4,-0.024],[61.9,-0.022],[62.3,-0.022],[62.8,-0.025],[63.2,-0.024],[63.7,-0.022],[64.1,-0.022],[64.6,-0.025],[65,-0.025],
  [65.5,-0.025],[65.9,-0.027],[66.4,-0.029],[66.8,-0.027],[67.3,-0.024],[67.7,-0.023],[68.2,-0.022],[68.6,-0.02],[69.1,-0.018],[69.5,-0.017],
  [70,-0.017],[70.4,-0.017],[70.9,-0.018],[71.3,-0.02],[71.8,-0.024],[72.2,-0.031],[72.7,-0.036],[73.1,-0.041],[73.6,-0.045],[74,-0.048],
  [74.5,-0.049],[74.9,-0.05],[75.4,-0.051],[75.8,-0.052],[76.3,-0.05],[76.7,-0.049],[77.2,-0.049],[77.6,-0.05],[78.1,-0.049],[78.5,-0.048],
  [79,-0.047],[79.4,-0.047],[79.9,-0.047],[80.3,-0.046],[80.8,-0.046],[81.2,-0.048],[81.7,-0.051],[82.1,-0.051],[82.6,-0.052],[83,-0.055],
  [83.5,-0.057],[83.9,-0.059],[84.3,-0.064],[84.5,-0.058],
  [53,-0.044],[53.4,-0.048],[53.8,-0.052],[54.2,-0.056],[54.7,-0.059],[55.1,-0.061],[55.6,-0.061],[56,-0.06],[56.5,-0.059],[56.9,-0.057],
  [57.4,-0.056],[57.8,-0.058],[58.3,-0.063],[58.7,-0.067],[59.2,-0.068],[59.6,-0.069],[60.1,-0.07],[60.5,-0.072],[61,-0.075],[61.4,-0.076],
  [61.9,-0.077],[62.3,-0.079],[62.8,-0.08],[63.2,-0.08],[63.7,-0.074],[64.1,-0.068],[64.6,-0.063],[65,-0.06],[65.5,-0.06],[65.9,-0.062],
  [66.4,-0.063],[66.8,-0.064],[67.3,-0.061],[67.7,-0.06],[68.2,-0.059],[68.6,-0.059],[69.1,-0.062],[69.5,-0.063],[70,-0.064],[70.4,-0.066],
  [70.9,-0.07],[71.3,-0.072],[71.8,-0.075],[72.2,-0.077],[72.7,-0.079],[73.1,-0.081],[73.6,-0.082],[74,-0.08],[74.5,-0.078],[74.9,-0.077],
  [75.4,-0.075],[75.8,-0.074],[76.3,-0.072],[76.7,-0.07],[77.2,-0.069],[77.6,-0.068],[78.1,-0.066],[78.5,-0.064],[79,-0.062],[79.4,-0.06],
  [79.9,-0.056],[80.3,-0.052],[80.8,-0.048],[81.5,-0.052],[82.3,-0.058],[83,-0.062],[83.7,-0.066],[84.2,-0.068],[84.6,-0.063],
  [46.9,-0.009],[47.4,-0.008],[47.9,-0.006],[48.4,-0.002],[48.8,0.003],[49.3,0.007],[49.7,0.011],[50.1,0.014],[50.2,0.009],
];

// ---------- panel ----------
type Box = { L: number; T: number; R: number; B: number };

const PAD_L = 100, PAD_T = 20, PAD_R = 20, PAD_B = 40;
const TICK_LEN = 8;
const textStyle = {
  fontFamily: FONT,
  fontSize: 22,
  letterSpacing: '1.4px',
  fill: '#000',
  stroke: '#000',
  strokeWidth: 0.25,
} as const;

const MARK = 4;
const plusShape = (color: string) => (p: any) => {
  const { cx, cy } = p;
  if (cx == null || cy == null) return <g />;
  return (
    <path d={`M${cx - MARK},${cy}H${cx + MARK}M${cx},${cy - MARK}V${cy + MARK}`} stroke={color} strokeWidth={1.2} fill="none" />
  );
};

function labelFor(ticks: number[], labels: string[], v: number) {
  const i = ticks.findIndex((t) => Math.abs(t - v) < 1e-9);
  return i >= 0 ? labels[i] : String(v);
}

function Panel(props: {
  box: Box;
  points: [number, number][];
  black?: [number, number][];
  yTicks: number[];
  yLabels: string[];
}) {
  const { box, points, black, yTicks, yLabels } = props;
  const w = box.R - box.L;
  const h = box.B - box.T;
  const data = points.map(([x, y]) => ({ x, y }));
  const blackData = (black || []).map(([x, y]) => ({ x, y }));
  const yDomain: [number, number] = [yTicks[0], yTicks[yTicks.length - 1]];

  const renderYTick = (p: any) => {
    const y = p.y;
    const v = p.payload.value;
    return (
      <g>
        <line x1={PAD_L} x2={PAD_L + TICK_LEN} y1={y} y2={y} stroke={AXIS} strokeWidth={1} />
        <line x1={PAD_L + w - TICK_LEN} x2={PAD_L + w} y1={y} y2={y} stroke={AXIS} strokeWidth={1} />
        <text x={PAD_L - 17.5} y={y + 8} textAnchor="end" style={textStyle}>
          {labelFor(yTicks, yLabels, v)}
        </text>
      </g>
    );
  };
  const renderXTick = (p: any) => {
    const x = p.x;
    const v = p.payload.value;
    return (
      <g>
        <line x1={x} x2={x} y1={PAD_T} y2={PAD_T + TICK_LEN} stroke={AXIS} strokeWidth={1} />
        <line x1={x} x2={x} y1={PAD_T + h - TICK_LEN} y2={PAD_T + h} stroke={AXIS} strokeWidth={1} />
        <text x={x + 1} y={PAD_T + h + 34} textAnchor="middle" style={textStyle}>
          {labelFor(xTicks, xTickLabels, v)}
        </text>
      </g>
    );
  };

  return (
    <div style={{ position: 'absolute', left: box.L - PAD_L, top: box.T - PAD_T }}>
      <ScatterChart
        width={w + PAD_L + PAD_R}
        height={h + PAD_T + PAD_B}
        margin={{ top: PAD_T, right: PAD_R, bottom: 0, left: 0 }}
      >
        <CartesianGrid stroke={GRID} strokeDasharray="2 3" strokeWidth={1} />
        <XAxis
          type="number"
          dataKey="x"
          domain={[20, 90]}
          ticks={xTicks}
          interval={0}
          height={PAD_B}
          axisLine={false}
          tickLine={false}
          tick={renderXTick}
          allowDataOverflow
        />
        <YAxis
          type="number"
          dataKey="y"
          domain={yDomain}
          ticks={yTicks}
          interval={0}
          width={PAD_L}
          axisLine={false}
          tickLine={false}
          tick={renderYTick}
          allowDataOverflow
        />
        <ReferenceArea
          x1={20}
          x2={90}
          y1={yDomain[0]}
          y2={yDomain[1]}
          fill="none"
          fillOpacity={0}
          stroke={AXIS}
          strokeWidth={1}
          ifOverflow="visible"
        />
        <Scatter name="red" data={data} shape={plusShape(RED)} isAnimationActive={false} />
        {blackData.length > 0 && (
          <Scatter name="black" data={blackData} shape={plusShape('#000')} isAnimationActive={false} />
        )}
      </ScatterChart>
    </div>
  );
}

const boxes: Box[] = [
  { L: 139, T: 63, R: 377, B: 370 },
  { L: 507, T: 63, R: 781, B: 370 },
  { L: 939, T: 63, R: 1183, B: 370 },
  { L: 123, T: 517, R: 377, B: 823 },
  { L: 507, T: 517, R: 781, B: 823 },
  { L: 924, T: 517, R: 1183, B: 823 },
];
const legendNames = ['x=Lc', 'x=MW', 'x=Li', 'x=Lc', 'x=MW', 'x=Li'];

export default function App() {
  return (
    <div style={{ position: 'absolute', left: 0, top: 0, width: 1208, height: 904, background: '#fff', overflow: 'hidden' }}>
      <Panel box={boxes[0]} points={topLcPoints} yTicks={topLcTicks} yLabels={topLcLabels} />
      <Panel box={boxes[1]} points={topMwPoints} black={topMwBlack} yTicks={topMwTicks} yLabels={topMwLabels} />
      <Panel box={boxes[2]} points={topLiPoints} black={topLiBlack} yTicks={topLiTicks} yLabels={topLiLabels} />
      <Panel box={boxes[3]} points={botLcPoints} yTicks={botLcTicks} yLabels={botLcLabels} />
      <Panel box={boxes[4]} points={botMwPoints} yTicks={botMwTicks} yLabels={botMwLabels} />
      <Panel box={boxes[5]} points={botLiPoints} yTicks={botLiTicks} yLabels={botLiLabels} />
      <svg width={1208} height={904} style={{ position: 'absolute', left: 0, top: 0, pointerEvents: 'none' }}>
        <text x={658} y={28} textAnchor="middle" style={textStyle}>
          Rec-Sat-DDarcId: bucu-1-10-1-1-1 during 17-02-13 (Elemin = 20 deg)
        </text>
        <text x={522} y={898} textAnchor="start" style={textStyle}>
          LOS elevation angle / deg
        </text>
        <text x={33} y={217} textAnchor="middle" transform="rotate(-90 33 217)" style={textStyle}>
          DDDpref.res.[x]
        </text>
        <text x={33} y={670} textAnchor="middle" transform="rotate(-90 33 670)" style={textStyle}>
          {'DDpref.res.[x]-<DDpref.res.[x]> / m'}
        </text>
        {boxes.map((b, i) => {
          const cy = b.T + 22;
          const mx = b.R - 66;
          return (
            <g key={i}>
              <text x={b.R - 117} y={cy + 8} textAnchor="end" style={textStyle}>
                {legendNames[i]}
              </text>
              <path d={`M${mx - MARK},${cy}H${mx + MARK}M${mx},${cy - MARK}V${cy + MARK}`} stroke={RED} strokeWidth={1.2} fill="none" />
            </g>
          );
        })}
      </svg>
    </div>
  );
}
